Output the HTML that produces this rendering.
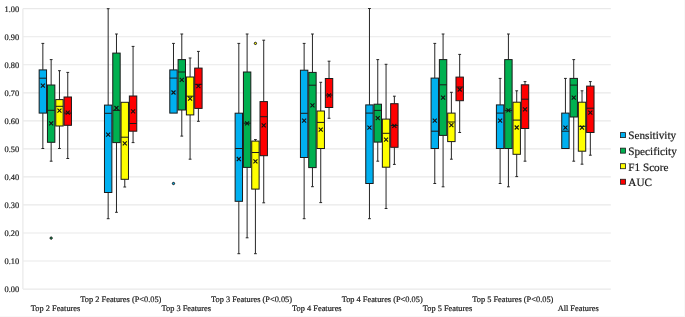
<!DOCTYPE html><html><head><meta charset="utf-8"><style>
html,body{margin:0;padding:0;background:#fff;}
svg{display:block;}
text{font-family:"Liberation Serif",serif;fill:#1a1a1a;stroke:#1a1a1a;stroke-width:0.2px;text-rendering:geometricPrecision;}
.tg{will-change:transform;}
</style></head><body>
<svg width="685" height="317" viewBox="0 0 685 317">
<rect x="0" y="0" width="685" height="317" fill="#fff"/>
<line x1="684.5" y1="0" x2="684.5" y2="317" stroke="#f8f8f8" stroke-width="1"/>
<line x1="0" y1="316.5" x2="685" y2="316.5" stroke="#f8f8f8" stroke-width="1"/>
<line x1="22.90" y1="289.05" x2="610.80" y2="289.05" stroke="#e9e9e9" stroke-width="1.2"/>
<line x1="22.90" y1="261.01" x2="610.80" y2="261.01" stroke="#e9e9e9" stroke-width="1.2"/>
<line x1="22.90" y1="232.98" x2="610.80" y2="232.98" stroke="#e9e9e9" stroke-width="1.2"/>
<line x1="22.90" y1="204.94" x2="610.80" y2="204.94" stroke="#e9e9e9" stroke-width="1.2"/>
<line x1="22.90" y1="176.91" x2="610.80" y2="176.91" stroke="#e9e9e9" stroke-width="1.2"/>
<line x1="22.90" y1="148.88" x2="610.80" y2="148.88" stroke="#e9e9e9" stroke-width="1.2"/>
<line x1="22.90" y1="120.84" x2="610.80" y2="120.84" stroke="#e9e9e9" stroke-width="1.2"/>
<line x1="22.90" y1="92.81" x2="610.80" y2="92.81" stroke="#e9e9e9" stroke-width="1.2"/>
<line x1="22.90" y1="64.77" x2="610.80" y2="64.77" stroke="#e9e9e9" stroke-width="1.2"/>
<line x1="22.90" y1="36.73" x2="610.80" y2="36.73" stroke="#e9e9e9" stroke-width="1.2"/>
<line x1="22.90" y1="8.70" x2="610.80" y2="8.70" stroke="#e9e9e9" stroke-width="1.2"/>
<line x1="22.90" y1="8.70" x2="22.90" y2="289.05" stroke="#e9e9e9" stroke-width="1.2"/>
<g class="tg">
<text x="19.2" y="291.95" font-size="8.4" text-anchor="end">0.00</text>
<text x="19.2" y="263.91" font-size="8.4" text-anchor="end">0.10</text>
<text x="19.2" y="235.88" font-size="8.4" text-anchor="end">0.20</text>
<text x="19.2" y="207.84" font-size="8.4" text-anchor="end">0.30</text>
<text x="19.2" y="179.81" font-size="8.4" text-anchor="end">0.40</text>
<text x="19.2" y="151.78" font-size="8.4" text-anchor="end">0.50</text>
<text x="19.2" y="123.74" font-size="8.4" text-anchor="end">0.60</text>
<text x="19.2" y="95.71" font-size="8.4" text-anchor="end">0.70</text>
<text x="19.2" y="67.67" font-size="8.4" text-anchor="end">0.80</text>
<text x="19.2" y="39.63" font-size="8.4" text-anchor="end">0.90</text>
<text x="19.2" y="11.60" font-size="8.4" text-anchor="end">1.00</text>
</g>
<line x1="42.85" y1="43.40" x2="42.85" y2="69.90" stroke="#262626" stroke-width="1"/>
<line x1="41.45" y1="43.40" x2="44.25" y2="43.40" stroke="#262626" stroke-width="1"/>
<line x1="42.85" y1="113.10" x2="42.85" y2="148.50" stroke="#262626" stroke-width="1"/>
<line x1="41.45" y1="148.50" x2="44.25" y2="148.50" stroke="#262626" stroke-width="1"/>
<rect x="39.15" y="69.90" width="7.40" height="43.20" fill="#00b0f0" stroke="#1a1a1a" stroke-width="1"/>
<line x1="39.15" y1="78.20" x2="46.55" y2="78.20" stroke="#1a1a1a" stroke-width="1"/>
<path d="M40.85 83.60L44.85 87.60M40.85 87.60L44.85 83.60" stroke="#111" stroke-width="1.1" fill="none"/>
<line x1="51.15" y1="59.60" x2="51.15" y2="85.00" stroke="#262626" stroke-width="1"/>
<line x1="49.75" y1="59.60" x2="52.55" y2="59.60" stroke="#262626" stroke-width="1"/>
<line x1="51.15" y1="142.30" x2="51.15" y2="161.20" stroke="#262626" stroke-width="1"/>
<line x1="49.75" y1="161.20" x2="52.55" y2="161.20" stroke="#262626" stroke-width="1"/>
<rect x="47.45" y="85.00" width="7.40" height="57.30" fill="#00b050" stroke="#1a1a1a" stroke-width="1"/>
<line x1="47.45" y1="110.30" x2="54.85" y2="110.30" stroke="#1a1a1a" stroke-width="1"/>
<path d="M49.15 121.30L53.15 125.30M49.15 125.30L53.15 121.30" stroke="#111" stroke-width="1.1" fill="none"/>
<circle cx="51.15" cy="238.10" r="1.15" fill="#00b050" stroke="#1a1a1a" stroke-width="1.0"/>
<line x1="59.45" y1="70.70" x2="59.45" y2="99.60" stroke="#262626" stroke-width="1"/>
<line x1="58.05" y1="70.70" x2="60.85" y2="70.70" stroke="#262626" stroke-width="1"/>
<line x1="59.45" y1="126.00" x2="59.45" y2="148.50" stroke="#262626" stroke-width="1"/>
<line x1="58.05" y1="148.50" x2="60.85" y2="148.50" stroke="#262626" stroke-width="1"/>
<rect x="55.75" y="99.60" width="7.40" height="26.40" fill="#ffff00" stroke="#1a1a1a" stroke-width="1"/>
<line x1="55.75" y1="106.30" x2="63.15" y2="106.30" stroke="#1a1a1a" stroke-width="1"/>
<path d="M57.45 108.60L61.45 112.60M57.45 112.60L61.45 108.60" stroke="#111" stroke-width="1.1" fill="none"/>
<line x1="67.75" y1="72.40" x2="67.75" y2="97.00" stroke="#262626" stroke-width="1"/>
<line x1="66.35" y1="72.40" x2="69.15" y2="72.40" stroke="#262626" stroke-width="1"/>
<line x1="67.75" y1="125.30" x2="67.75" y2="158.50" stroke="#262626" stroke-width="1"/>
<line x1="66.35" y1="158.50" x2="69.15" y2="158.50" stroke="#262626" stroke-width="1"/>
<rect x="64.05" y="97.00" width="7.40" height="28.30" fill="#ff0000" stroke="#1a1a1a" stroke-width="1"/>
<line x1="64.05" y1="113.10" x2="71.45" y2="113.10" stroke="#1a1a1a" stroke-width="1"/>
<path d="M65.75 110.60L69.75 114.60M65.75 114.60L69.75 110.60" stroke="#111" stroke-width="1.1" fill="none"/>
<line x1="108.17" y1="8.70" x2="108.17" y2="105.10" stroke="#262626" stroke-width="1"/>
<line x1="106.77" y1="8.70" x2="109.57" y2="8.70" stroke="#262626" stroke-width="1"/>
<line x1="108.17" y1="192.50" x2="108.17" y2="218.70" stroke="#262626" stroke-width="1"/>
<line x1="106.77" y1="218.70" x2="109.57" y2="218.70" stroke="#262626" stroke-width="1"/>
<rect x="104.47" y="105.10" width="7.40" height="87.40" fill="#00b0f0" stroke="#1a1a1a" stroke-width="1"/>
<line x1="104.47" y1="113.30" x2="111.87" y2="113.30" stroke="#1a1a1a" stroke-width="1"/>
<path d="M106.17 132.60L110.17 136.60M106.17 136.60L110.17 132.60" stroke="#111" stroke-width="1.1" fill="none"/>
<line x1="116.47" y1="34.00" x2="116.47" y2="53.10" stroke="#262626" stroke-width="1"/>
<line x1="115.07" y1="34.00" x2="117.87" y2="34.00" stroke="#262626" stroke-width="1"/>
<line x1="116.47" y1="142.60" x2="116.47" y2="212.30" stroke="#262626" stroke-width="1"/>
<line x1="115.07" y1="212.30" x2="117.87" y2="212.30" stroke="#262626" stroke-width="1"/>
<rect x="112.77" y="53.10" width="7.40" height="89.50" fill="#00b050" stroke="#1a1a1a" stroke-width="1"/>
<line x1="112.77" y1="110.40" x2="120.17" y2="110.40" stroke="#1a1a1a" stroke-width="1"/>
<path d="M114.47 106.00L118.47 110.00M114.47 110.00L118.47 106.00" stroke="#111" stroke-width="1.1" fill="none"/>
<line x1="124.77" y1="179.30" x2="124.77" y2="187.00" stroke="#262626" stroke-width="1"/>
<line x1="123.37" y1="187.00" x2="126.17" y2="187.00" stroke="#262626" stroke-width="1"/>
<rect x="121.07" y="102.30" width="7.40" height="77.00" fill="#ffff00" stroke="#1a1a1a" stroke-width="1"/>
<line x1="121.07" y1="137.20" x2="128.47" y2="137.20" stroke="#1a1a1a" stroke-width="1"/>
<path d="M122.77 141.30L126.77 145.30M122.77 145.30L126.77 141.30" stroke="#111" stroke-width="1.1" fill="none"/>
<line x1="133.07" y1="46.40" x2="133.07" y2="96.00" stroke="#262626" stroke-width="1"/>
<line x1="131.67" y1="46.40" x2="134.47" y2="46.40" stroke="#262626" stroke-width="1"/>
<line x1="133.07" y1="131.20" x2="133.07" y2="142.60" stroke="#262626" stroke-width="1"/>
<line x1="131.67" y1="142.60" x2="134.47" y2="142.60" stroke="#262626" stroke-width="1"/>
<rect x="129.37" y="96.00" width="7.40" height="35.20" fill="#ff0000" stroke="#1a1a1a" stroke-width="1"/>
<line x1="129.37" y1="123.50" x2="136.77" y2="123.50" stroke="#1a1a1a" stroke-width="1"/>
<path d="M131.07 109.40L135.07 113.40M131.07 113.40L135.07 109.40" stroke="#111" stroke-width="1.1" fill="none"/>
<line x1="173.49" y1="43.40" x2="173.49" y2="69.90" stroke="#262626" stroke-width="1"/>
<line x1="172.09" y1="43.40" x2="174.89" y2="43.40" stroke="#262626" stroke-width="1"/>
<rect x="169.79" y="69.90" width="7.40" height="43.20" fill="#00b0f0" stroke="#1a1a1a" stroke-width="1"/>
<line x1="169.79" y1="78.10" x2="177.19" y2="78.10" stroke="#1a1a1a" stroke-width="1"/>
<path d="M171.49 90.50L175.49 94.50M171.49 94.50L175.49 90.50" stroke="#111" stroke-width="1.1" fill="none"/>
<circle cx="173.49" cy="183.50" r="1.15" fill="#00b0f0" stroke="#1a1a1a" stroke-width="1.0"/>
<line x1="181.79" y1="34.00" x2="181.79" y2="59.60" stroke="#262626" stroke-width="1"/>
<line x1="180.39" y1="34.00" x2="183.19" y2="34.00" stroke="#262626" stroke-width="1"/>
<line x1="181.79" y1="110.00" x2="181.79" y2="136.10" stroke="#262626" stroke-width="1"/>
<line x1="180.39" y1="136.10" x2="183.19" y2="136.10" stroke="#262626" stroke-width="1"/>
<rect x="178.09" y="59.60" width="7.40" height="50.40" fill="#00b050" stroke="#1a1a1a" stroke-width="1"/>
<line x1="178.09" y1="72.00" x2="185.49" y2="72.00" stroke="#1a1a1a" stroke-width="1"/>
<path d="M179.79 77.90L183.79 81.90M179.79 81.90L183.79 77.90" stroke="#111" stroke-width="1.1" fill="none"/>
<line x1="190.09" y1="58.00" x2="190.09" y2="77.00" stroke="#262626" stroke-width="1"/>
<line x1="188.69" y1="58.00" x2="191.49" y2="58.00" stroke="#262626" stroke-width="1"/>
<line x1="190.09" y1="114.90" x2="190.09" y2="159.20" stroke="#262626" stroke-width="1"/>
<line x1="188.69" y1="159.20" x2="191.49" y2="159.20" stroke="#262626" stroke-width="1"/>
<rect x="186.39" y="77.00" width="7.40" height="37.90" fill="#ffff00" stroke="#1a1a1a" stroke-width="1"/>
<line x1="186.39" y1="96.20" x2="193.79" y2="96.20" stroke="#1a1a1a" stroke-width="1"/>
<path d="M188.09 96.70L192.09 100.70M188.09 100.70L192.09 96.70" stroke="#111" stroke-width="1.1" fill="none"/>
<line x1="198.39" y1="51.40" x2="198.39" y2="68.10" stroke="#262626" stroke-width="1"/>
<line x1="196.99" y1="51.40" x2="199.79" y2="51.40" stroke="#262626" stroke-width="1"/>
<line x1="198.39" y1="108.40" x2="198.39" y2="121.30" stroke="#262626" stroke-width="1"/>
<line x1="196.99" y1="121.30" x2="199.79" y2="121.30" stroke="#262626" stroke-width="1"/>
<rect x="194.69" y="68.10" width="7.40" height="40.30" fill="#ff0000" stroke="#1a1a1a" stroke-width="1"/>
<line x1="194.69" y1="84.30" x2="202.09" y2="84.30" stroke="#1a1a1a" stroke-width="1"/>
<path d="M196.39 84.10L200.39 88.10M196.39 88.10L200.39 84.10" stroke="#111" stroke-width="1.1" fill="none"/>
<line x1="238.82" y1="43.40" x2="238.82" y2="113.20" stroke="#262626" stroke-width="1"/>
<line x1="237.42" y1="43.40" x2="240.22" y2="43.40" stroke="#262626" stroke-width="1"/>
<line x1="238.82" y1="201.30" x2="238.82" y2="253.70" stroke="#262626" stroke-width="1"/>
<line x1="237.42" y1="253.70" x2="240.22" y2="253.70" stroke="#262626" stroke-width="1"/>
<rect x="235.12" y="113.20" width="7.40" height="88.10" fill="#00b0f0" stroke="#1a1a1a" stroke-width="1"/>
<line x1="235.12" y1="148.50" x2="242.52" y2="148.50" stroke="#1a1a1a" stroke-width="1"/>
<path d="M236.82 157.00L240.82 161.00M236.82 161.00L240.82 157.00" stroke="#111" stroke-width="1.1" fill="none"/>
<line x1="247.12" y1="34.00" x2="247.12" y2="72.00" stroke="#262626" stroke-width="1"/>
<line x1="245.72" y1="34.00" x2="248.52" y2="34.00" stroke="#262626" stroke-width="1"/>
<line x1="247.12" y1="167.40" x2="247.12" y2="237.80" stroke="#262626" stroke-width="1"/>
<line x1="245.72" y1="237.80" x2="248.52" y2="237.80" stroke="#262626" stroke-width="1"/>
<rect x="243.42" y="72.00" width="7.40" height="95.40" fill="#00b050" stroke="#1a1a1a" stroke-width="1"/>
<line x1="243.42" y1="123.20" x2="250.82" y2="123.20" stroke="#1a1a1a" stroke-width="1"/>
<path d="M245.12 121.30L249.12 125.30M245.12 125.30L249.12 121.30" stroke="#111" stroke-width="1.1" fill="none"/>
<line x1="255.42" y1="139.60" x2="255.42" y2="141.10" stroke="#262626" stroke-width="1"/>
<line x1="254.02" y1="139.60" x2="256.82" y2="139.60" stroke="#262626" stroke-width="1"/>
<line x1="255.42" y1="189.10" x2="255.42" y2="253.70" stroke="#262626" stroke-width="1"/>
<line x1="254.02" y1="253.70" x2="256.82" y2="253.70" stroke="#262626" stroke-width="1"/>
<rect x="251.72" y="141.10" width="7.40" height="48.00" fill="#ffff00" stroke="#1a1a1a" stroke-width="1"/>
<line x1="251.72" y1="152.50" x2="259.12" y2="152.50" stroke="#1a1a1a" stroke-width="1"/>
<path d="M253.42 159.30L257.42 163.30M253.42 163.30L257.42 159.30" stroke="#111" stroke-width="1.1" fill="none"/>
<circle cx="255.42" cy="43.40" r="1.15" fill="#ffff00" stroke="#1a1a1a" stroke-width="1.0"/>
<line x1="263.72" y1="40.20" x2="263.72" y2="101.60" stroke="#262626" stroke-width="1"/>
<line x1="262.32" y1="40.20" x2="265.12" y2="40.20" stroke="#262626" stroke-width="1"/>
<line x1="263.72" y1="155.70" x2="263.72" y2="202.80" stroke="#262626" stroke-width="1"/>
<line x1="262.32" y1="202.80" x2="265.12" y2="202.80" stroke="#262626" stroke-width="1"/>
<rect x="260.02" y="101.60" width="7.40" height="54.10" fill="#ff0000" stroke="#1a1a1a" stroke-width="1"/>
<line x1="260.02" y1="116.70" x2="267.42" y2="116.70" stroke="#1a1a1a" stroke-width="1"/>
<path d="M261.72 123.30L265.72 127.30M261.72 127.30L265.72 123.30" stroke="#111" stroke-width="1.1" fill="none"/>
<line x1="304.14" y1="43.40" x2="304.14" y2="70.20" stroke="#262626" stroke-width="1"/>
<line x1="302.74" y1="43.40" x2="305.54" y2="43.40" stroke="#262626" stroke-width="1"/>
<line x1="304.14" y1="157.50" x2="304.14" y2="218.70" stroke="#262626" stroke-width="1"/>
<line x1="302.74" y1="218.70" x2="305.54" y2="218.70" stroke="#262626" stroke-width="1"/>
<rect x="300.44" y="70.20" width="7.40" height="87.30" fill="#00b0f0" stroke="#1a1a1a" stroke-width="1"/>
<line x1="300.44" y1="113.30" x2="307.84" y2="113.30" stroke="#1a1a1a" stroke-width="1"/>
<path d="M302.14 118.60L306.14 122.60M302.14 122.60L306.14 118.60" stroke="#111" stroke-width="1.1" fill="none"/>
<line x1="312.44" y1="34.00" x2="312.44" y2="72.40" stroke="#262626" stroke-width="1"/>
<line x1="311.04" y1="34.00" x2="313.84" y2="34.00" stroke="#262626" stroke-width="1"/>
<line x1="312.44" y1="167.60" x2="312.44" y2="186.70" stroke="#262626" stroke-width="1"/>
<line x1="311.04" y1="186.70" x2="313.84" y2="186.70" stroke="#262626" stroke-width="1"/>
<rect x="308.74" y="72.40" width="7.40" height="95.20" fill="#00b050" stroke="#1a1a1a" stroke-width="1"/>
<line x1="308.74" y1="85.20" x2="316.14" y2="85.20" stroke="#1a1a1a" stroke-width="1"/>
<path d="M310.44 103.40L314.44 107.40M310.44 107.40L314.44 103.40" stroke="#111" stroke-width="1.1" fill="none"/>
<line x1="320.74" y1="82.30" x2="320.74" y2="111.00" stroke="#262626" stroke-width="1"/>
<line x1="319.34" y1="82.30" x2="322.14" y2="82.30" stroke="#262626" stroke-width="1"/>
<line x1="320.74" y1="148.50" x2="320.74" y2="202.60" stroke="#262626" stroke-width="1"/>
<line x1="319.34" y1="202.60" x2="322.14" y2="202.60" stroke="#262626" stroke-width="1"/>
<rect x="317.04" y="111.00" width="7.40" height="37.50" fill="#ffff00" stroke="#1a1a1a" stroke-width="1"/>
<line x1="317.04" y1="122.40" x2="324.44" y2="122.40" stroke="#1a1a1a" stroke-width="1"/>
<path d="M318.74 127.70L322.74 131.70M318.74 131.70L322.74 127.70" stroke="#111" stroke-width="1.1" fill="none"/>
<line x1="329.04" y1="61.20" x2="329.04" y2="78.50" stroke="#262626" stroke-width="1"/>
<line x1="327.64" y1="61.20" x2="330.44" y2="61.20" stroke="#262626" stroke-width="1"/>
<line x1="329.04" y1="107.50" x2="329.04" y2="118.30" stroke="#262626" stroke-width="1"/>
<line x1="327.64" y1="118.30" x2="330.44" y2="118.30" stroke="#262626" stroke-width="1"/>
<rect x="325.34" y="78.50" width="7.40" height="29.00" fill="#ff0000" stroke="#1a1a1a" stroke-width="1"/>
<line x1="325.34" y1="95.10" x2="332.74" y2="95.10" stroke="#1a1a1a" stroke-width="1"/>
<path d="M327.04 93.30L331.04 97.30M327.04 97.30L331.04 93.30" stroke="#111" stroke-width="1.1" fill="none"/>
<line x1="369.46" y1="8.50" x2="369.46" y2="104.90" stroke="#262626" stroke-width="1"/>
<line x1="368.06" y1="8.50" x2="370.86" y2="8.50" stroke="#262626" stroke-width="1"/>
<line x1="369.46" y1="183.50" x2="369.46" y2="218.70" stroke="#262626" stroke-width="1"/>
<line x1="368.06" y1="218.70" x2="370.86" y2="218.70" stroke="#262626" stroke-width="1"/>
<rect x="365.76" y="104.90" width="7.40" height="78.60" fill="#00b0f0" stroke="#1a1a1a" stroke-width="1"/>
<line x1="365.76" y1="113.10" x2="373.16" y2="113.10" stroke="#1a1a1a" stroke-width="1"/>
<path d="M367.46 125.60L371.46 129.60M367.46 129.60L371.46 125.60" stroke="#111" stroke-width="1.1" fill="none"/>
<line x1="377.76" y1="59.60" x2="377.76" y2="104.20" stroke="#262626" stroke-width="1"/>
<line x1="376.36" y1="59.60" x2="379.16" y2="59.60" stroke="#262626" stroke-width="1"/>
<line x1="377.76" y1="142.10" x2="377.76" y2="161.20" stroke="#262626" stroke-width="1"/>
<line x1="376.36" y1="161.20" x2="379.16" y2="161.20" stroke="#262626" stroke-width="1"/>
<rect x="374.06" y="104.20" width="7.40" height="37.90" fill="#00b050" stroke="#1a1a1a" stroke-width="1"/>
<line x1="374.06" y1="110.40" x2="381.46" y2="110.40" stroke="#1a1a1a" stroke-width="1"/>
<path d="M375.76 116.10L379.76 120.10M375.76 120.10L379.76 116.10" stroke="#111" stroke-width="1.1" fill="none"/>
<line x1="386.06" y1="64.30" x2="386.06" y2="119.10" stroke="#262626" stroke-width="1"/>
<line x1="384.66" y1="64.30" x2="387.46" y2="64.30" stroke="#262626" stroke-width="1"/>
<line x1="386.06" y1="167.20" x2="386.06" y2="208.50" stroke="#262626" stroke-width="1"/>
<line x1="384.66" y1="208.50" x2="387.46" y2="208.50" stroke="#262626" stroke-width="1"/>
<rect x="382.36" y="119.10" width="7.40" height="48.10" fill="#ffff00" stroke="#1a1a1a" stroke-width="1"/>
<line x1="382.36" y1="133.30" x2="389.76" y2="133.30" stroke="#1a1a1a" stroke-width="1"/>
<path d="M384.06 137.60L388.06 141.60M384.06 141.60L388.06 137.60" stroke="#111" stroke-width="1.1" fill="none"/>
<line x1="394.36" y1="96.20" x2="394.36" y2="103.70" stroke="#262626" stroke-width="1"/>
<line x1="392.96" y1="96.20" x2="395.76" y2="96.20" stroke="#262626" stroke-width="1"/>
<line x1="394.36" y1="147.30" x2="394.36" y2="164.40" stroke="#262626" stroke-width="1"/>
<line x1="392.96" y1="164.40" x2="395.76" y2="164.40" stroke="#262626" stroke-width="1"/>
<rect x="390.66" y="103.70" width="7.40" height="43.60" fill="#ff0000" stroke="#1a1a1a" stroke-width="1"/>
<line x1="390.66" y1="125.50" x2="398.06" y2="125.50" stroke="#1a1a1a" stroke-width="1"/>
<path d="M392.36 123.80L396.36 127.80M392.36 127.80L396.36 123.80" stroke="#111" stroke-width="1.1" fill="none"/>
<line x1="434.78" y1="43.40" x2="434.78" y2="78.10" stroke="#262626" stroke-width="1"/>
<line x1="433.38" y1="43.40" x2="436.18" y2="43.40" stroke="#262626" stroke-width="1"/>
<line x1="434.78" y1="148.50" x2="434.78" y2="183.50" stroke="#262626" stroke-width="1"/>
<line x1="433.38" y1="183.50" x2="436.18" y2="183.50" stroke="#262626" stroke-width="1"/>
<rect x="431.08" y="78.10" width="7.40" height="70.40" fill="#00b0f0" stroke="#1a1a1a" stroke-width="1"/>
<line x1="431.08" y1="131.20" x2="438.48" y2="131.20" stroke="#1a1a1a" stroke-width="1"/>
<path d="M432.78 118.60L436.78 122.60M432.78 122.60L436.78 118.60" stroke="#111" stroke-width="1.1" fill="none"/>
<line x1="443.08" y1="34.00" x2="443.08" y2="59.60" stroke="#262626" stroke-width="1"/>
<line x1="441.68" y1="34.00" x2="444.48" y2="34.00" stroke="#262626" stroke-width="1"/>
<line x1="443.08" y1="135.40" x2="443.08" y2="186.80" stroke="#262626" stroke-width="1"/>
<line x1="441.68" y1="186.80" x2="444.48" y2="186.80" stroke="#262626" stroke-width="1"/>
<rect x="439.38" y="59.60" width="7.40" height="75.80" fill="#00b050" stroke="#1a1a1a" stroke-width="1"/>
<line x1="439.38" y1="84.80" x2="446.78" y2="84.80" stroke="#1a1a1a" stroke-width="1"/>
<path d="M441.08 95.70L445.08 99.70M441.08 99.70L445.08 95.70" stroke="#111" stroke-width="1.1" fill="none"/>
<line x1="451.38" y1="92.30" x2="451.38" y2="113.10" stroke="#262626" stroke-width="1"/>
<line x1="449.98" y1="92.30" x2="452.78" y2="92.30" stroke="#262626" stroke-width="1"/>
<line x1="451.38" y1="141.60" x2="451.38" y2="159.20" stroke="#262626" stroke-width="1"/>
<line x1="449.98" y1="159.20" x2="452.78" y2="159.20" stroke="#262626" stroke-width="1"/>
<rect x="447.68" y="113.10" width="7.40" height="28.50" fill="#ffff00" stroke="#1a1a1a" stroke-width="1"/>
<line x1="447.68" y1="122.00" x2="455.08" y2="122.00" stroke="#1a1a1a" stroke-width="1"/>
<path d="M449.38 123.20L453.38 127.20M449.38 127.20L453.38 123.20" stroke="#111" stroke-width="1.1" fill="none"/>
<line x1="459.68" y1="54.40" x2="459.68" y2="77.10" stroke="#262626" stroke-width="1"/>
<line x1="458.28" y1="54.40" x2="461.08" y2="54.40" stroke="#262626" stroke-width="1"/>
<line x1="459.68" y1="100.70" x2="459.68" y2="132.50" stroke="#262626" stroke-width="1"/>
<line x1="458.28" y1="132.50" x2="461.08" y2="132.50" stroke="#262626" stroke-width="1"/>
<rect x="455.98" y="77.10" width="7.40" height="23.60" fill="#ff0000" stroke="#1a1a1a" stroke-width="1"/>
<line x1="455.98" y1="87.00" x2="463.38" y2="87.00" stroke="#1a1a1a" stroke-width="1"/>
<path d="M457.68 87.50L461.68 91.50M457.68 91.50L461.68 87.50" stroke="#111" stroke-width="1.1" fill="none"/>
<line x1="500.11" y1="78.40" x2="500.11" y2="104.90" stroke="#262626" stroke-width="1"/>
<line x1="498.71" y1="78.40" x2="501.51" y2="78.40" stroke="#262626" stroke-width="1"/>
<line x1="500.11" y1="148.50" x2="500.11" y2="183.50" stroke="#262626" stroke-width="1"/>
<line x1="498.71" y1="183.50" x2="501.51" y2="183.50" stroke="#262626" stroke-width="1"/>
<rect x="496.41" y="104.90" width="7.40" height="43.60" fill="#00b0f0" stroke="#1a1a1a" stroke-width="1"/>
<line x1="496.41" y1="113.10" x2="503.81" y2="113.10" stroke="#1a1a1a" stroke-width="1"/>
<path d="M498.11 118.60L502.11 122.60M498.11 122.60L502.11 118.60" stroke="#111" stroke-width="1.1" fill="none"/>
<line x1="508.41" y1="34.00" x2="508.41" y2="59.60" stroke="#262626" stroke-width="1"/>
<line x1="507.01" y1="34.00" x2="509.81" y2="34.00" stroke="#262626" stroke-width="1"/>
<line x1="508.41" y1="148.50" x2="508.41" y2="186.80" stroke="#262626" stroke-width="1"/>
<line x1="507.01" y1="186.80" x2="509.81" y2="186.80" stroke="#262626" stroke-width="1"/>
<rect x="504.71" y="59.60" width="7.40" height="88.90" fill="#00b050" stroke="#1a1a1a" stroke-width="1"/>
<line x1="504.71" y1="110.40" x2="512.11" y2="110.40" stroke="#1a1a1a" stroke-width="1"/>
<path d="M506.41 108.40L510.41 112.40M506.41 112.40L510.41 108.40" stroke="#111" stroke-width="1.1" fill="none"/>
<line x1="516.71" y1="90.80" x2="516.71" y2="102.20" stroke="#262626" stroke-width="1"/>
<line x1="515.31" y1="90.80" x2="518.11" y2="90.80" stroke="#262626" stroke-width="1"/>
<line x1="516.71" y1="154.30" x2="516.71" y2="176.60" stroke="#262626" stroke-width="1"/>
<line x1="515.31" y1="176.60" x2="518.11" y2="176.60" stroke="#262626" stroke-width="1"/>
<rect x="513.01" y="102.20" width="7.40" height="52.10" fill="#ffff00" stroke="#1a1a1a" stroke-width="1"/>
<line x1="513.01" y1="120.10" x2="520.41" y2="120.10" stroke="#1a1a1a" stroke-width="1"/>
<path d="M514.71 125.50L518.71 129.50M514.71 129.50L518.71 125.50" stroke="#111" stroke-width="1.1" fill="none"/>
<line x1="525.01" y1="81.60" x2="525.01" y2="84.80" stroke="#262626" stroke-width="1"/>
<line x1="523.61" y1="81.60" x2="526.41" y2="81.60" stroke="#262626" stroke-width="1"/>
<line x1="525.01" y1="128.50" x2="525.01" y2="161.20" stroke="#262626" stroke-width="1"/>
<line x1="523.61" y1="161.20" x2="526.41" y2="161.20" stroke="#262626" stroke-width="1"/>
<rect x="521.31" y="84.80" width="7.40" height="43.70" fill="#ff0000" stroke="#1a1a1a" stroke-width="1"/>
<line x1="521.31" y1="99.20" x2="528.71" y2="99.20" stroke="#1a1a1a" stroke-width="1"/>
<path d="M523.01 107.40L527.01 111.40M523.01 111.40L527.01 107.40" stroke="#111" stroke-width="1.1" fill="none"/>
<line x1="565.43" y1="78.40" x2="565.43" y2="113.10" stroke="#262626" stroke-width="1"/>
<line x1="564.03" y1="78.40" x2="566.83" y2="78.40" stroke="#262626" stroke-width="1"/>
<rect x="561.73" y="113.10" width="7.40" height="35.40" fill="#00b0f0" stroke="#1a1a1a" stroke-width="1"/>
<line x1="561.73" y1="131.20" x2="569.13" y2="131.20" stroke="#1a1a1a" stroke-width="1"/>
<path d="M563.43 125.60L567.43 129.60M563.43 129.60L567.43 125.60" stroke="#111" stroke-width="1.1" fill="none"/>
<line x1="573.73" y1="59.60" x2="573.73" y2="78.40" stroke="#262626" stroke-width="1"/>
<line x1="572.33" y1="59.60" x2="575.13" y2="59.60" stroke="#262626" stroke-width="1"/>
<line x1="573.73" y1="117.00" x2="573.73" y2="161.20" stroke="#262626" stroke-width="1"/>
<line x1="572.33" y1="161.20" x2="575.13" y2="161.20" stroke="#262626" stroke-width="1"/>
<rect x="570.03" y="78.40" width="7.40" height="38.60" fill="#00b050" stroke="#1a1a1a" stroke-width="1"/>
<line x1="570.03" y1="85.10" x2="577.43" y2="85.10" stroke="#1a1a1a" stroke-width="1"/>
<path d="M571.73 95.70L575.73 99.70M571.73 99.70L575.73 95.70" stroke="#111" stroke-width="1.1" fill="none"/>
<line x1="582.03" y1="90.80" x2="582.03" y2="102.20" stroke="#262626" stroke-width="1"/>
<line x1="580.63" y1="90.80" x2="583.43" y2="90.80" stroke="#262626" stroke-width="1"/>
<line x1="582.03" y1="151.20" x2="582.03" y2="164.20" stroke="#262626" stroke-width="1"/>
<line x1="580.63" y1="164.20" x2="583.43" y2="164.20" stroke="#262626" stroke-width="1"/>
<rect x="578.33" y="102.20" width="7.40" height="49.00" fill="#ffff00" stroke="#1a1a1a" stroke-width="1"/>
<line x1="578.33" y1="126.30" x2="585.73" y2="126.30" stroke="#1a1a1a" stroke-width="1"/>
<path d="M580.03 125.70L584.03 129.70M580.03 129.70L584.03 125.70" stroke="#111" stroke-width="1.1" fill="none"/>
<line x1="590.33" y1="81.60" x2="590.33" y2="86.10" stroke="#262626" stroke-width="1"/>
<line x1="588.93" y1="81.60" x2="591.73" y2="81.60" stroke="#262626" stroke-width="1"/>
<line x1="590.33" y1="132.50" x2="590.33" y2="155.20" stroke="#262626" stroke-width="1"/>
<line x1="588.93" y1="155.20" x2="591.73" y2="155.20" stroke="#262626" stroke-width="1"/>
<rect x="586.63" y="86.10" width="7.40" height="46.40" fill="#ff0000" stroke="#1a1a1a" stroke-width="1"/>
<line x1="586.63" y1="108.20" x2="594.03" y2="108.20" stroke="#1a1a1a" stroke-width="1"/>
<path d="M588.33 110.60L592.33 114.60M588.33 114.60L592.33 110.60" stroke="#111" stroke-width="1.1" fill="none"/>
<g class="tg">
<text x="55.56" y="311.10" font-size="8.36" text-anchor="middle">Top 2 Features</text>
<text x="120.88" y="301.90" font-size="8.36" text-anchor="middle">Top 2 Features (P&lt;0.05)</text>
<text x="186.21" y="311.10" font-size="8.36" text-anchor="middle">Top 3 Features</text>
<text x="251.53" y="301.90" font-size="8.36" text-anchor="middle">Top 3 Features (P&lt;0.05)</text>
<text x="316.85" y="311.10" font-size="8.36" text-anchor="middle">Top 4 Features</text>
<text x="382.17" y="301.90" font-size="8.36" text-anchor="middle">Top 4 Features (P&lt;0.05)</text>
<text x="447.49" y="311.10" font-size="8.36" text-anchor="middle">Top 5 Features</text>
<text x="512.82" y="301.90" font-size="8.36" text-anchor="middle">Top 5 Features (P&lt;0.05)</text>
<text x="578.14" y="311.10" font-size="8.36" text-anchor="middle">All Features</text>
</g>
<rect x="620.6" y="132.60" width="5.0" height="5.0" fill="#00b0f0" stroke="#1a1a1a" stroke-width="0.8"/>
<g class="tg"><text x="628.3" y="139.40" font-size="11.2">Sensitivity</text></g>
<rect x="620.6" y="148.15" width="5.0" height="5.0" fill="#00b050" stroke="#1a1a1a" stroke-width="0.8"/>
<g class="tg"><text x="628.3" y="154.95" font-size="11.2">Specificity</text></g>
<rect x="620.6" y="163.70" width="5.0" height="5.0" fill="#ffff00" stroke="#1a1a1a" stroke-width="0.8"/>
<g class="tg"><text x="628.3" y="170.50" font-size="11.2">F1 Score</text></g>
<rect x="620.6" y="179.25" width="5.0" height="5.0" fill="#ff0000" stroke="#1a1a1a" stroke-width="0.8"/>
<g class="tg"><text x="628.3" y="186.05" font-size="11.2">AUC</text></g>
</svg></body></html>
